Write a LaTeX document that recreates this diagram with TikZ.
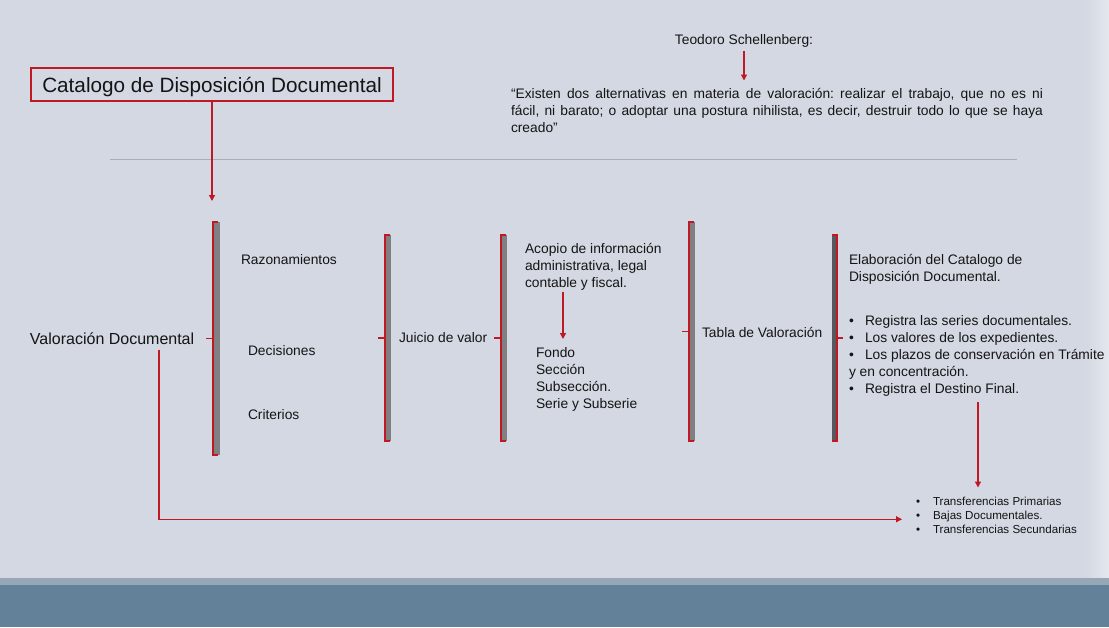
\documentclass[tikz,border=0pt]{standalone}
\usepackage{fontspec}
\setmainfont{Liberation Sans}
\usetikzlibrary{arrows.meta}
\definecolor{bg}{RGB}{211,216,226}
\definecolor{bandlight}{RGB}{150,168,182}
\definecolor{band}{RGB}{99,130,153}
\definecolor{redc}{RGB}{192,24,36}
\definecolor{barc}{RGB}{128,128,130}
\definecolor{bardark}{RGB}{88,88,94}
\definecolor{txt}{RGB}{20,20,20}
\definecolor{rule}{RGB}{170,174,182}
\frenchspacing
\begin{document}
\begin{tikzpicture}[x=1pt,y=-1pt,
  txtnode/.style={inner sep=0pt,outer sep=0pt,text=txt},
  f13/.style={font=\fontsize{13.8}{17}\selectfont},
  f15/.style={font=\fontsize{16}{19}\selectfont},
  f11/.style={font=\fontsize{11.6}{14}\selectfont},
  barnode/.style={fill=barc,inner sep=0pt,outer sep=0pt,minimum width=6pt},
  redline/.style={draw=redc,line width=1.2pt},
  arr/.style={draw=redc,line width=1.2pt,-{Triangle[width=6pt,length=6pt]}},
]
\useasboundingbox (0,0) rectangle (1109,627);
\fill[bg] (0,0) rectangle (1109,627);
\shade[left color=bg,right color=bg!60!white] (1085,0) rectangle (1109,578);
\fill[bandlight] (0,578) rectangle (1109,585);
\fill[band] (0,585) rectangle (1109,627);
\draw[rule,line width=0.8pt] (110,159) -- (1017,159);

% title box
\node[txtnode,draw=redc,line width=1.2pt,minimum width=362pt,minimum height=33pt,
  text height=18pt,text depth=2pt,
  font=\fontsize{20.7}{24}\selectfont] (cat) at (212,84.5) {Catalogo de Disposición Documental};
\coordinate (catend) at (212,201);
\draw[arr] (cat.south) -- (catend);

% quote
\node[txtnode,f13,anchor=base] (teo) at (744,44) {Teodoro Schellenberg:};
\node[txtnode,f13,anchor=north west,text width=532pt,align=justify] (quote) at (511,88.5)
 {“Existen dos alternativas en materia de valoración: realizar el trabajo, que no es ni\linebreak
 fácil, ni barato; o adoptar una postura nihilista, es decir, destruir todo lo que se haya\linebreak
 creado”};
\draw[arr,shorten >=8pt] ([yshift=-4pt]teo.south) -- (teo.south |- quote.north);

% left label
\node[txtnode,f15,anchor=base west] (val) at (30,344.5) {Valoración Documental};

% brackets
\node[barnode,minimum height=233pt,minimum width=7pt] (b1) at (216.5,338.5) {};
\node[barnode,minimum height=206pt] (b2) at (388,338) {};
\node[barnode,minimum height=206pt] (b3) at (504,338) {};
\node[barnode,minimum height=219pt] (b4) at (692,331.5) {};
\node[barnode,fill=bardark,minimum height=206pt,minimum width=5pt] (b5) at (834.5,338) {};
\foreach \b in {b1,b2,b3,b4}{
  \draw[redline] ([xshift=5pt]\b.north west) -- (\b.north west) -- (\b.south west) -- ([xshift=5pt]\b.south west);
  \draw[redline] (\b.west) -- ++(-7,0);
}
\draw[redline] (b5.north west) -- (b5.north east) -- (b5.south east) -- (b5.south west);
\draw[redline] (b5.east) -- ++(6,0);

% column texts
\node[txtnode,f13,anchor=base west] (raz) at (241,264) {Razonamientos};
\node[txtnode,f13,anchor=base west] (dec) at (248,355) {Decisiones};
\node[txtnode,f13,anchor=base west] (cri) at (248,419) {Criterios};
\node[txtnode,f13,anchor=base west] (jui) at (399,342) {Juicio de valor};
\node[txtnode,f13,anchor=north west,align=left] (aco) at (525,243.5)
 {Acopio de información\\administrativa, legal\\contable y fiscal.};
\node[txtnode,f13,anchor=north west,align=left] (fon) at (536,347)
 {Fondo\\Sección\\Subsección.\\Serie y Subserie};
\draw[arr,shorten >=8pt] ([xshift=38pt,yshift=-1pt]aco.south west) -- ([xshift=38pt]aco.south west |- fon.north);
\node[txtnode,f13,anchor=base west] (tab) at (702,337) {Tabla de Valoración};
\node[txtnode,f13,anchor=north west,align=left] (ela) at (849,254.5)
 {Elaboración del Catalogo de\\Disposición Documental.};
\node[txtnode,f13,anchor=north west,align=left] (reg) at (849,315)
 {\makebox[16pt][l]{•}Registra las series documentales.\\
  \makebox[16pt][l]{•}Los valores de los expedientes.\\
  \makebox[16pt][l]{•}Los plazos de conservación en Trámite\\
  y en concentración.\\
  \makebox[16pt][l]{•}Registra el Destino Final.};
\node[txtnode,f11,anchor=north west,align=left] (fin) at (916,497.5)
 {\makebox[17pt][l]{•}Transferencias Primarias\\
  \makebox[17pt][l]{•}Bajas Documentales.\\
  \makebox[17pt][l]{•}Transferencias Secundarias};
\draw[arr,shorten >=10pt] ([xshift=129pt,yshift=-6pt]reg.south west) -- ([xshift=129pt]reg.south west |- fin.north);
\draw[arr] ([xshift=129pt,yshift=-5pt]val.south west) |- ([xshift=-14pt,yshift=-3.5pt]fin.west);
\end{tikzpicture}
\end{document}
